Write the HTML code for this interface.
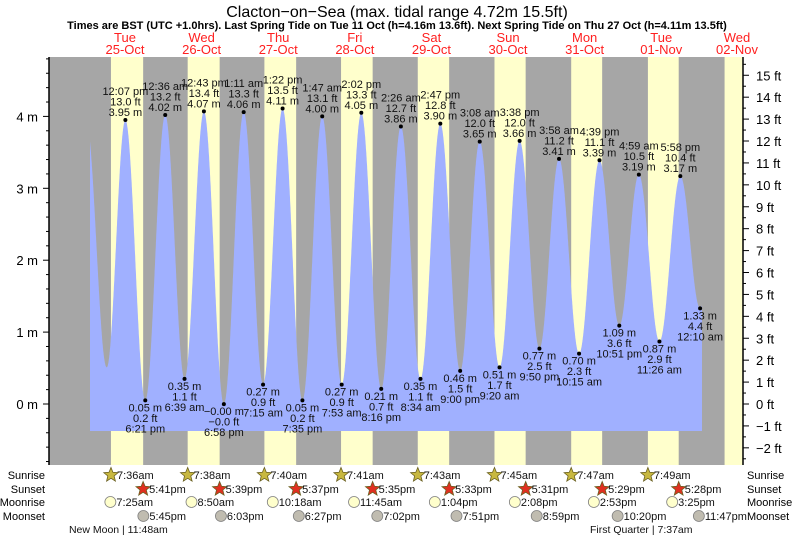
<!DOCTYPE html>
<html><head><meta charset="utf-8"><style>
html,body{margin:0;padding:0;background:#fff;}
svg{display:block;font-family:"Liberation Sans",sans-serif;}
</style></head><body>
<svg id="chart" width="793" height="539" viewBox="0 0 793 539" xmlns="http://www.w3.org/2000/svg">
<text x="397" y="17" font-size="16" text-anchor="middle" fill="#000">Clacton−on−Sea (max. tidal range 4.72m 15.5ft)</text>
<text x="397" y="29" font-size="11" font-weight="bold" text-anchor="middle" fill="#000">Times are BST (UTC +1.0hrs). Last Spring Tide on Tue 11 Oct (h=4.16m 13.6ft). Next Spring Tide on Thu 27 Oct (h=4.11m 13.5ft)</text>
<g id="bg"></g>
<g id="tide"></g>
<g id="axes"></g>
<g id="labels"></g>
<g id="astro"></g>
</svg>
<script>
// ---- data ----
const dayNames = ["Tue","Wed","Thu","Fri","Sat","Sun","Mon","Tue","Wed"];
const dayDates = ["25-Oct","26-Oct","27-Oct","28-Oct","29-Oct","30-Oct","31-Oct","01-Nov","02-Nov"];
// tide extremes: hours since midnight 25-Oct, heights in m
const tideHours = [-0.2, 6.27, 12.12, 18.35, 24.6, 30.65, 36.72, 42.97, 49.18, 55.25, 61.37, 67.58, 73.78, 79.88, 86.03, 92.27, 98.43, 104.57, 110.78, 117.0, 123.13, 129.33, 135.63, 141.83, 147.97, 154.25, 160.65, 166.85, 172.98, 179.43, 185.97, 192.17, 198.4];
const tideHeights = [3.95, 0.51, 3.95, 0.05, 4.02, 0.35, 4.07, -0.001, 4.06, 0.27, 4.11, 0.05, 4.00, 0.27, 4.05, 0.21, 3.86, 0.35, 3.90, 0.46, 3.65, 0.51, 3.66, 0.77, 3.41, 0.70, 3.39, 1.09, 3.19, 0.87, 3.17, 1.33, 3.2];
const tideTimes = ["", "", "12:07 pm","6:21 pm","12:36 am","6:39 am","12:43 pm","6:58 pm","1:11 am","7:15 am","1:22 pm","7:35 pm","1:47 am","7:53 am","2:02 pm","8:16 pm","2:26 am","8:34 am","2:47 pm","9:00 pm","3:08 am","9:20 am","3:38 pm","9:50 pm","3:58 am","10:15 am","4:39 pm","10:51 pm","4:59 am","11:26 am","5:58 pm","12:10 am",""];
const sunriseTimes = ["7:36am","7:38am","7:40am","7:41am","7:43am","7:45am","7:47am","7:49am"];
const sunsetTimes = ["5:41pm","5:39pm","5:37pm","5:35pm","5:33pm","5:31pm","5:29pm","5:28pm"];
const moonriseTimes = ["7:25am","8:50am","10:18am","11:45am","1:04pm","2:08pm","2:53pm","3:25pm"];
const moonsetTimes = ["5:45pm","6:03pm","6:27pm","7:02pm","7:51pm","8:59pm","10:20pm","11:47pm"];
const wedSunrise = "7:50am";
const moonPhases = [["New Moon | 11:48am",0,"11:48am"],["First Quarter | 7:37am",7,"7:37am"]];
const meterTicks = [0,1,2,3,4];
const feetTicks = [-2,-1,0,1,2,3,4,5,6,7,8,9,10,11,12,13,14,15];

// ---- scales ----
const X0 = 86.7, PXH = 3.192;
const PL = 49, PR = 743, PT = 57, PB = 465;
const Y0 = 404, PXM = 71.9;
const xh = h => X0 + h * PXH;
const ym = m => Y0 - m * PXM;
const yft = f => Y0 - f * PXM / 3.2808;
function parseT(s){const m=s.match(/(\d+):(\d+)\s*(am|pm)/);let h=+m[1]%12;if(m[3]==="pm")h+=12;return h+ +m[2]/60;}
const NS="http://www.w3.org/2000/svg";
function mk(tag, attrs, parent, txt){const e=document.createElementNS(NS,tag);for(const k in attrs)e.setAttribute(k,attrs[k]);if(txt!==undefined)e.textContent=txt;parent.appendChild(e);return e;}

const bg=document.getElementById('bg'), tide=document.getElementById('tide'), axes=document.getElementById('axes'), labels=document.getElementById('labels'), astro=document.getElementById('astro');

// background
let r=mk('rect',{x:PL,y:PT,width:PR-PL,height:PB-PT,fill:'#a6a6a6'},bg);


for(let d=0; d<9; d++){
  const sr = d<8 ? parseT(sunriseTimes[d]) : parseT(wedSunrise);
  const ss = d<8 ? parseT(sunsetTimes[d]) : 24;
  const x1 = Math.max(PL, xh(d*24+sr)), x2 = Math.min(PR, xh(d*24+ss));
  const s=mk('rect',{x:x1,y:PT,width:Math.max(0,x2-x1),height:PB-PT,fill:'#ffffcc'},bg);
  
  
  const cx = xh(d*24+12);
  const t1=mk('text',{x:Math.min(cx,737),y:42,'font-size':13,'text-anchor':'middle',fill:'#ff2020'},bg,dayNames[d]);
  
  
  const t2=mk('text',{x:Math.min(cx,737),y:54,'font-size':13,'text-anchor':'middle',fill:'#ff2020'},bg,dayDates[d]);
  
  
}

// tide curve
function hAt(t){
  for(let i=0;i<tideHours.length-1;i++){
    if(t>=tideHours[i] && t<=tideHours[i+1]){
      const f=(t-tideHours[i])/(tideHours[i+1]-tideHours[i]);
      const a=tideHeights[i], b=tideHeights[i+1];
      return b+(a-b)*(1+Math.cos(Math.PI*f))/2;
    }
  }
  return tideHeights[tideHeights.length-1];
}
const tStart=(90-X0)/PXH, tEnd=(702-X0)/PXH, base=ym(-0.375);
let d=`M${xh(tStart).toFixed(1)},${base} `;
for(let t=tStart;t<=tEnd;t+=0.05){d+=`L${xh(t).toFixed(1)},${ym(hAt(t)).toFixed(1)} `;}
d+=`L${xh(tEnd).toFixed(1)},${ym(hAt(tEnd)).toFixed(1)} L${xh(tEnd).toFixed(1)},${base} Z`;
const area=mk('path',{d:d,fill:'#a0b0ff'},tide);



// axes
const la=mk('line',{x1:PL,y1:PT,x2:PL,y2:PB,stroke:'#000','stroke-width':1.5},axes);


const ra=mk('line',{x1:PR,y1:PT,x2:PR,y2:PB,stroke:'#000','stroke-width':1.5},axes);


for(let m=-0.8;m<=5.41;m+=0.2){
  const y=ym(m), major=Math.abs(m-Math.round(m))<0.01;
  if(y<PT||y>PB) continue;
  mk('line',{x1:PL-(major?6:3),y1:y,x2:PL,y2:y,stroke:'#000'},axes);
}
meterTicks.forEach(m=>{
  const t=mk('text',{x:38,y:ym(m)+5,'font-size':13,'text-anchor':'end',fill:'#000'},axes,m+' m');
  
  
});
for(let f=-2.5;f<=15.6;f+=0.5){
  const y=yft(f), major=Math.abs(f-Math.round(f))<0.01;
  if(y<PT||y>PB) continue;
  mk('line',{x1:PR,y1:y,x2:PR+(major?6:3),y2:y,stroke:'#000'},axes);
}
feetTicks.forEach(f=>{
  const t=mk('text',{x:756,y:yft(f)+5,'font-size':13,fill:'#000'},axes,(f<0?'−'+(-f):f)+' ft');
  
  
});

// tide labels
for(let i=0;i<tideHours.length;i++){
  if(!tideTimes[i]) continue;
  const x=xh(tideHours[i]), y=ym(tideHeights[i]);
  const high = i%2===0;
  const dot=mk('circle',{cx:x,cy:y,r:2,fill:'#000'},labels);
  
  
  const mStr=tideHeights[i].toFixed(2).replace('-','−')+' m';
  const fStr=(tideHeights[i]*3.2808).toFixed(1).replace('-','−')+' ft';
  const lines = high ? [[tideTimes[i],-25],[fStr,-14.5],[mStr,-4]] : [[mStr,11],[fStr,21.5],[tideTimes[i],32]];
  lines.forEach(l=>{
    const t=mk('text',{x:x,y:y+l[1],'font-size':11,'text-anchor':'middle',fill:'#111'},labels,l[0]);
    
    
  });
}

// astro rows
const rowY=[479,493,506,520];
const rowNames=['Sunrise','Sunset','Moonrise','Moonset'];
rowNames.forEach((n,i)=>{
  const a=mk('text',{x:45,y:rowY[i],'font-size':11,'text-anchor':'end',fill:'#000'},astro,n);
  
  
  const b=mk('text',{x:747,y:rowY[i],'font-size':11,fill:'#000'},astro,n);
  
  
});
function star(cx,cy,fill){
  let p=[];for(let k=0;k<10;k++){const rr=k%2?3.3:7.5,a=-Math.PI/2+k*Math.PI/5;p.push((cx+rr*Math.cos(a)).toFixed(1)+','+(cy+rr*Math.sin(a)).toFixed(1));}
  return mk('polygon',{points:p.join(' '),fill:fill,stroke:'#6a6020','stroke-width':0.8},astro);
}
const rows=[[sunriseTimes,'sun'],[sunsetTimes,'sun'],[moonriseTimes,'moon'],[moonsetTimes,'moon']];
const fills=['#c8b840','#e03020','#ffffcc','#c0bcb0'];
rows.forEach((rw,i)=>{
  rw[0].forEach((s,dd)=>{
    const x=xh(dd*24+parseT(s)), y=rowY[i]-4;
    let ic;
    if(rw[1]==='sun'){ic=star(x,y,fills[i]);}
    else{ic=mk('circle',{cx:x,cy:y,r:5.5,fill:fills[i],stroke:'#808080','stroke-width':0.8},astro);}
    
    
    const t=mk('text',{x:x+6,y:rowY[i],'font-size':11,fill:'#111'},astro,s);
    
    
  });
});
moonPhases.forEach(p=>{
  const x=xh(p[1]*24+parseT(p[2]))-6;
  const t=mk('text',{x:x,y:533,'font-size':10.5,'text-anchor':'middle',fill:'#111'},astro,p[0]);
  
  
});
</script>
</body></html>
